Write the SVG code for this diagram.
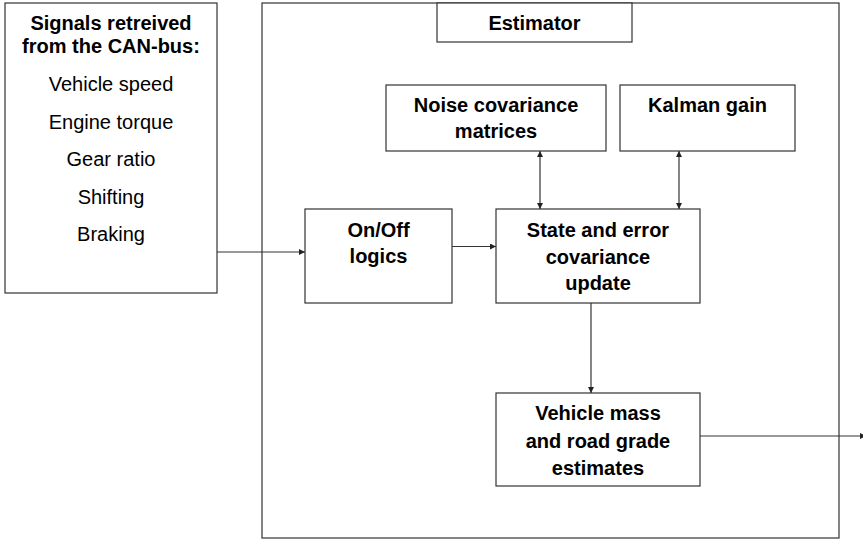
<svg xmlns="http://www.w3.org/2000/svg" width="863" height="539" viewBox="0 0 863 539">
<style>
.n rect{fill:#fff;stroke:#333;stroke-width:1.2}
text{font-family:"Liberation Sans",Arial,sans-serif;font-size:20px;fill:#000;text-anchor:middle}
.b{font-weight:bold}
.c line{stroke:#333;stroke-width:1.2}
</style>
<defs>
<marker id="a" viewBox="0 0 10 10" refX="10" refY="5" markerWidth="6" markerHeight="6" markerUnits="userSpaceOnUse" orient="auto-start-reverse"><path d="M0,0L10,5L0,10z" fill="#222"/></marker>
</defs>
<rect width="863" height="539" fill="#fff"/>
<g class="n">
<g id="signals">
<rect x="5" y="3" width="212" height="290"/>
<text class="b" x="111" y="30">Signals retreived</text>
<text class="b" x="111" y="53">from the CAN-bus:</text>
<text x="111" y="91">Vehicle speed</text>
<text x="111" y="128.5">Engine torque</text>
<text x="111" y="166">Gear ratio</text>
<text x="111" y="203.5">Shifting</text>
<text x="111" y="241">Braking</text>
</g>
<g id="estimator">
<rect x="262" y="3" width="577" height="535"/>
</g>
<g id="estimator-label">
<rect x="437" y="3" width="195" height="39"/>
<text class="b" x="534.5" y="30">Estimator</text>
</g>
<g id="noise">
<rect x="386" y="85" width="220" height="66"/>
<text class="b" x="496" y="112">Noise covariance</text>
<text class="b" x="496" y="138">matrices</text>
</g>
<g id="kalman">
<rect x="620" y="85" width="175" height="66"/>
<text class="b" x="707.5" y="112">Kalman gain</text>
</g>
<g id="onoff">
<rect x="305" y="209" width="147" height="94"/>
<text class="b" x="378.5" y="237">On/Off</text>
<text class="b" x="378.5" y="263">logics</text>
</g>
<g id="state">
<rect x="496" y="209" width="204" height="94"/>
<text class="b" x="598" y="237">State and error</text>
<text class="b" x="598" y="264">covariance</text>
<text class="b" x="598" y="290">update</text>
</g>
<g id="vehicle">
<rect x="496" y="393" width="204" height="93"/>
<text class="b" x="598" y="420">Vehicle mass</text>
<text class="b" x="598" y="447.5">and road grade</text>
<text class="b" x="598" y="475">estimates</text>
</g>
</g>
<g class="c" id="connectors">
<line x1="217" y1="252" x2="305" y2="252" marker-end="url(#a)"/>
<line x1="452" y1="246.5" x2="496" y2="246.5" marker-end="url(#a)"/>
<line x1="540" y1="151" x2="540" y2="209" marker-start="url(#a)" marker-end="url(#a)"/>
<line x1="679" y1="151" x2="679" y2="209" marker-start="url(#a)" marker-end="url(#a)"/>
<line x1="591" y1="303" x2="591" y2="393" marker-end="url(#a)"/>
<line x1="700" y1="436" x2="866" y2="436" marker-end="url(#a)"/>
</g>
</svg>
